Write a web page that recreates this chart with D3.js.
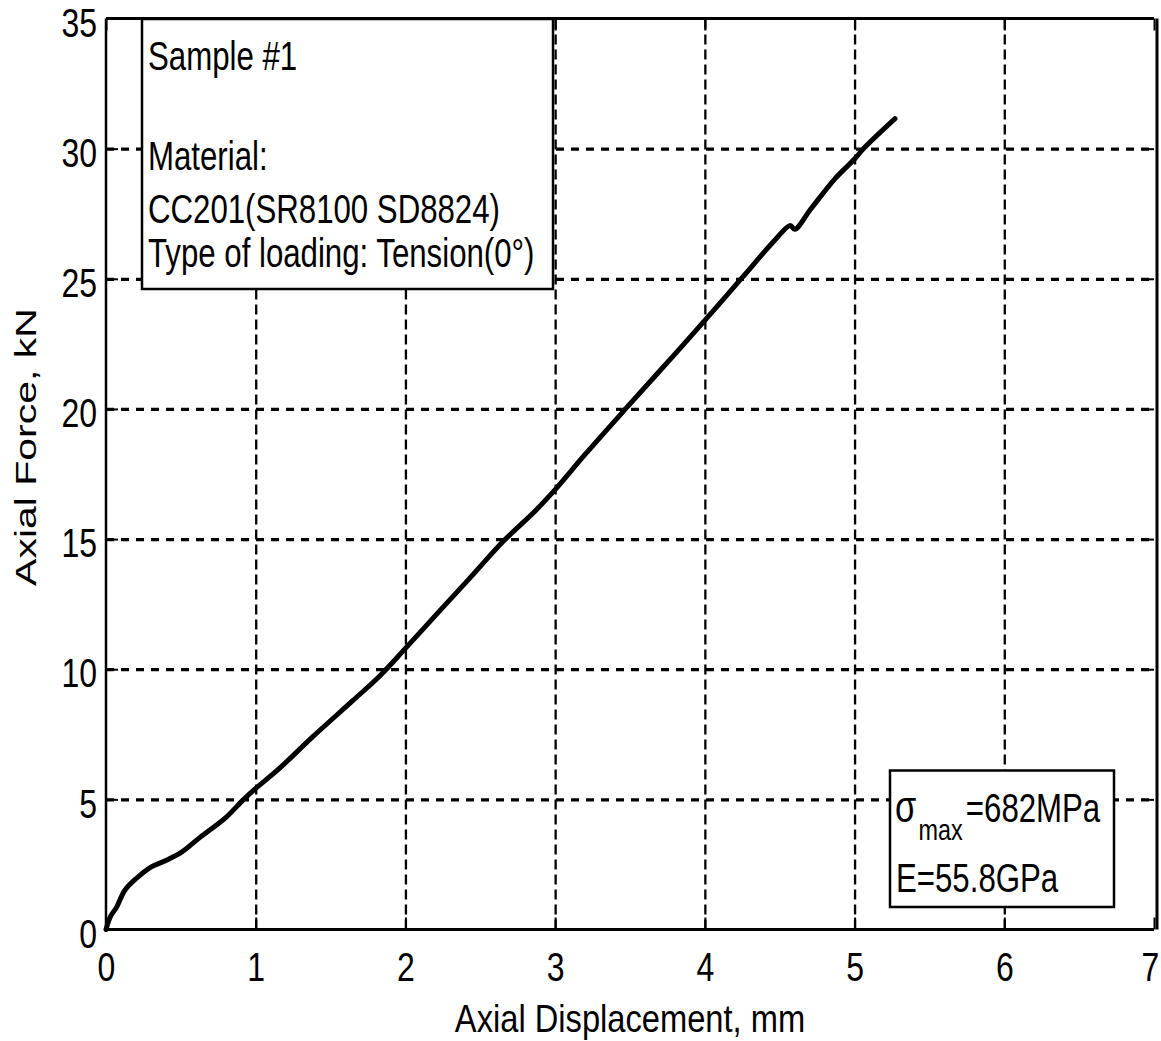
<!DOCTYPE html>
<html>
<head>
<meta charset="UTF-8">
<title>Axial Force vs Axial Displacement</title>
<script src="https://cdn.jsdelivr.net/npm/d3@7/dist/d3.min.js"></script>
<style type="text/css">
body, html {
    margin: 0;
    padding: 0;
    background: #fff;
}

svg text {
    font-family: "Liberation Sans", Arial, sans-serif;
    fill: #000;
}

.grid line {
    stroke: #000;
    fill: none;
}

.grid path {
    display: none;
}

.axis path {
    display: none;
}

.axis line {
    stroke: #000;
    stroke-width: 2;
}
</style>
</head>
<body>

<div class="chart"></div>

<script type="text/javascript">
// values
var displacement = [0, 0.03, 0.07, 0.125, 0.2, 0.3, 0.4, 0.5, 0.63, 0.8, 0.92, 1.0, 1.16, 1.38, 1.65, 1.83,
                    2.0, 2.23, 2.43, 2.66, 2.87, 3.0, 3.2, 3.47, 3.65, 3.83, 4.0, 4.25, 4.47, 4.57, 4.6,
                    4.71, 4.87, 5.0, 5.06, 5.27];
var force = [0, 0.5, 0.85, 1.5, 1.95, 2.4, 2.65, 2.95, 3.55, 4.3, 5.0, 5.42, 6.2, 7.4, 8.8, 9.75,
             10.8, 12.25, 13.5, 14.95, 16.1, 16.9, 18.25, 20.0, 21.15, 22.3, 23.4, 25.05, 26.5, 27.05, 26.9,
             27.7, 28.85, 29.6, 30.0, 31.15];

var xTicks = [0, 1, 2, 3, 4, 5, 6, 7];
var yTicks = [0, 5, 10, 15, 20, 25, 30, 35];

var infoLines = ["Sample #1", "Material:", "CC201(SR8100 SD8824)", "Type of loading: Tension(0\u00B0)"];
var infoBaselines = [51, 151, 204, 248];   // relative to plot top
var sigmaMax = "682MPa";
var modulus = "E=55.8GPa";

var xTitle = "Axial Displacement, mm";
var yTitle = "Axial Force, kN";

var SX = 0.78;   // horizontal squeeze of the lettering

var margin  = {top: 18.5, right: 7, bottom: 111.5, left: 106},
    totalW  = 1161,
    totalH  = 1041,
    width   = totalW - margin.left - margin.right,
    height  = totalH - margin.top - margin.bottom;

var x = d3.scaleLinear().domain([0, 7]).range([0, width]);
var y = d3.scaleLinear().domain([0, 35]).range([height, 0]);

var svg = d3.select(".chart")
    .append("svg")
    .attr("width", totalW)
    .attr("height", totalH)
    .style("display", "block");

svg.append("rect")
    .attr("width", totalW)
    .attr("height", totalH)
    .attr("fill", "#fff");

var g = svg.append("g")
    .attr("transform", "translate(" + margin.left + "," + margin.top + ")");

// dashed grid
g.append("g")
    .attr("class", "grid")
    .attr("transform", "translate(0," + height + ")")
    .call(d3.axisBottom(x).tickValues(xTicks.slice(1, -1)).tickSize(-height).tickFormat(""))
    .selectAll("line")
    .attr("stroke-width", 2.3)
    .attr("stroke-dasharray", "10,5");

g.append("g")
    .attr("class", "grid")
    .call(d3.axisLeft(y).tickValues(yTicks.slice(1, -1)).tickSize(-width).tickFormat(""))
    .selectAll("line")
    .attr("stroke-width", 3.2)
    .attr("stroke-dasharray", "8,7");

// inward ticks on all four sides
var xb = g.append("g")
    .attr("class", "axis")
    .attr("transform", "translate(0," + height + ")")
    .call(d3.axisBottom(x).tickValues(xTicks).tickSize(-12).tickFormat(d3.format("d")));

xb.selectAll("text")
    .attr("x", null).attr("y", null).attr("dy", null)
    .attr("font-size", 41)
    .attr("text-anchor", "middle")
    .attr("transform", function (d) {
        // last label sits against the page edge
        var nudge = d === xTicks[xTicks.length - 1] ? -4 : 0;
        return "translate(" + nudge + ",51.5) scale(" + SX + ",1)";
    });

var yl = g.append("g")
    .attr("class", "axis")
    .call(d3.axisLeft(y).tickValues(yTicks).tickSize(-12).tickFormat(d3.format("d")));

yl.selectAll("text")
    .attr("x", null).attr("y", null).attr("dy", null)
    .attr("font-size", 41)
    .attr("text-anchor", "end")
    .attr("transform", "translate(-9,17.7) scale(" + SX + ",1)");

g.append("g")
    .attr("class", "axis")
    .call(d3.axisTop(x).tickValues(xTicks).tickSize(-12).tickFormat(""));

g.append("g")
    .attr("class", "axis")
    .attr("transform", "translate(" + width + ",0)")
    .call(d3.axisRight(y).tickValues(yTicks).tickSize(-12).tickFormat(""));

// frame
g.append("line").attr("x1", 0).attr("x2", width).attr("y1", height).attr("y2", height)
    .attr("stroke", "#000").attr("stroke-width", 3);
g.append("line").attr("x1", 0).attr("x2", width).attr("y1", 0).attr("y2", 0)
    .attr("stroke", "#000").attr("stroke-width", 3);
g.append("line").attr("x1", 0).attr("x2", 0).attr("y1", 0).attr("y2", height)
    .attr("stroke", "#000").attr("stroke-width", 2.5);
g.append("line").attr("x1", width + 3).attr("x2", width + 3).attr("y1", 0).attr("y2", height)
    .attr("stroke", "#000").attr("stroke-width", 3);

// curve
var line = d3.line()
    .x(function (d, i) { return x(displacement[i]); })
    .y(function (d) { return y(d); })
    .curve(d3.curveCatmullRom.alpha(0.5));

g.append("path")
    .datum(force)
    .attr("fill", "none")
    .attr("stroke", "#000")
    .attr("stroke-width", 5)
    .attr("stroke-linejoin", "round")
    .attr("stroke-linecap", "round")
    .attr("d", line);

// info box, upper left
var info = g.append("g").attr("transform", "translate(36,0.5)");

info.append("rect")
    .attr("width", 411)
    .attr("height", 270)
    .attr("fill", "#fff")
    .attr("stroke", "#000")
    .attr("stroke-width", 2.5);

info.selectAll("text.info")
    .data(infoLines)
    .enter()
    .append("text")
    .attr("class", "info")
    .attr("font-size", 40)
    .attr("transform", function (d, i) {
        return "translate(6," + infoBaselines[i] + ") scale(" + SX + ",1)";
    })
    .text(function (d) { return d; });

// result box, lower right
var res = g.append("g").attr("transform", "translate(784,752)");

res.append("rect")
    .attr("width", 224)
    .attr("height", 136.5)
    .attr("fill", "#fff")
    .attr("stroke", "#000")
    .attr("stroke-width", 2.5);

var s = res.append("text")
    .attr("font-size", 40)
    .attr("transform", "translate(5,51) scale(" + SX + ",1)");
s.append("tspan").attr("font-size", 44).text("\u03C3");
s.append("tspan").attr("font-size", 30).attr("dy", 18).attr("dx", 3).text("max");
s.append("tspan").attr("dy", -18).attr("dx", 4).text("=" + sigmaMax);

res.append("text")
    .attr("font-size", 40)
    .attr("transform", "translate(6,121) scale(" + SX + ",1)")
    .text(modulus);

// axis titles
svg.append("text")
    .attr("font-size", 38)
    .attr("text-anchor", "middle")
    .attr("transform", "translate(630,1032) scale(0.86,1)")
    .text(xTitle);

svg.append("text")
    .attr("font-size", 41)
    .attr("text-anchor", "middle")
    .attr("transform", "translate(36,447) rotate(-90) scale(1,0.72)")
    .text(yTitle);
</script>
</body>
</html>
